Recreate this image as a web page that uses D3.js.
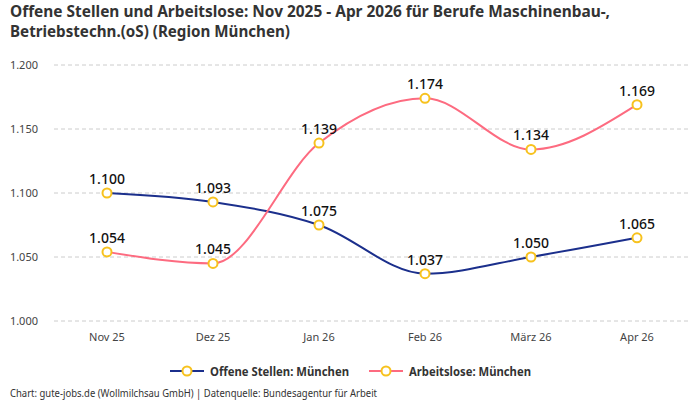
<!DOCTYPE html>
<html>
<head>
<meta charset="utf-8">
<script src="https://cdn.jsdelivr.net/npm/d3@7"></script>
<style>
  body { margin: 0; background: #fff; }
  svg { display: block; font-family: "Noto Sans", Roboto, sans-serif; }
</style>
</head>
<body>
<div id="chart"></div>
<script>
const width = 700, height = 400;

const months = ["Nov 25", "Dez 25", "Jan 26", "Feb 26", "März 26", "Apr 26"];
const offeneStellen = [1100, 1093, 1075, 1037, 1050, 1065];
const arbeitslose = [1054, 1045, 1139, 1174, 1134, 1169];
const yTicks = [1000, 1050, 1100, 1150, 1200];
const seriesNames = ["Offene Stellen: München", "Arbeitslose: München"];
const seriesColors = ["#1b2f8c", "#fd6b80"];

const fmt = v => d3.format(",")(v).replace(/,/g, ".");

const svg = d3.select("#chart").append("svg")
    .attr("width", width)
    .attr("height", height);

// title (condensed look via textLength)
const title = svg.append("g")
    .attr("font-size", 16)
    .attr("font-weight", "bold")
    .attr("fill", "#333");
title.append("text").attr("x", 10).attr("y", 17)
    .attr("textLength", 600).attr("lengthAdjust", "spacingAndGlyphs")
    .text("Offene Stellen und Arbeitslose: Nov 2025 - Apr 2026 für Berufe Maschinenbau-,");
title.append("text").attr("x", 10).attr("y", 37)
    .attr("textLength", 280).attr("lengthAdjust", "spacingAndGlyphs")
    .text("Betriebstechn.(oS) (Region München)");

const x = d3.scalePoint()
    .domain(months)
    .range([54, 690])
    .padding(0.5);

const y = d3.scaleLinear()
    .domain([1000, 1200])
    .range([321, 65]);

// grid
svg.append("g")
    .selectAll("line")
    .data(yTicks)
    .join("line")
    .attr("x1", 54)
    .attr("x2", 690)
    .attr("y1", d => y(d))
    .attr("y2", d => y(d))
    .attr("stroke", "#ccc")
    .attr("stroke-dasharray", "4,3");

// y axis labels
svg.append("g")
    .selectAll("text")
    .data(yTicks)
    .join("text")
    .attr("x", 38)
    .attr("y", d => y(d) + 4)
    .attr("text-anchor", "end")
    .attr("font-size", 11)
    .attr("fill", "#444")
    .text(d => fmt(d));

// x axis labels
svg.append("g")
    .selectAll("text")
    .data(months)
    .join("text")
    .attr("x", d => x(d))
    .attr("y", 341)
    .attr("text-anchor", "middle")
    .attr("font-size", 11)
    .attr("fill", "#444")
    .text(d => d);

const line = d3.line()
    .x((d, i) => x(months[i]))
    .y(d => y(d))
    .curve(d3.curveMonotoneX);

[offeneStellen, arbeitslose].forEach((vals, si) => {
    svg.append("path")
        .datum(vals)
        .attr("d", line)
        .attr("fill", "none")
        .attr("stroke", seriesColors[si])
        .attr("stroke-width", 2);
});

[offeneStellen, arbeitslose].forEach((vals, si) => {
    const g = svg.append("g");
    g.selectAll("circle")
        .data(vals)
        .join("circle")
        .attr("cx", (d, i) => x(months[i]))
        .attr("cy", d => y(d))
        .attr("r", 4.5)
        .attr("fill", "#fff")
        .attr("stroke", "#f7c21e")
        .attr("stroke-width", 2);
    g.selectAll("text")
        .data(vals)
        .join("text")
        .attr("x", (d, i) => x(months[i]))
        .attr("y", d => y(d) - 9)
        .attr("text-anchor", "middle")
        .attr("font-size", 14)
        .attr("font-weight", 500)
        .attr("fill", "#111")
        .text(d => fmt(d));
});

// legend
const legendX = [170, 369];
seriesNames.forEach((name, i) => {
    const g = svg.append("g").attr("transform", `translate(${legendX[i]},371)`);
    g.append("line").attr("x1", 0).attr("x2", 34).attr("stroke", seriesColors[i]).attr("stroke-width", 2);
    g.append("circle").attr("cx", 17).attr("r", 4.5).attr("fill", "#fff").attr("stroke", "#f7c21e").attr("stroke-width", 2);
    g.append("text").attr("x", 40).attr("y", 4.5).attr("font-size", 12).attr("font-weight", "bold")
        .attr("fill", "#333").attr("textLength", i === 0 ? 139 : 122).attr("lengthAdjust", "spacingAndGlyphs")
        .text(name);
});

// footer
svg.append("text")
    .attr("x", 10)
    .attr("y", 397)
    .attr("font-size", 10)
    .attr("fill", "#333")
    .attr("textLength", 367)
    .attr("lengthAdjust", "spacingAndGlyphs")
    .text("Chart: gute-jobs.de (Wollmilchsau GmbH) | Datenquelle: Bundesagentur für Arbeit");
</script>
</body>
</html>
